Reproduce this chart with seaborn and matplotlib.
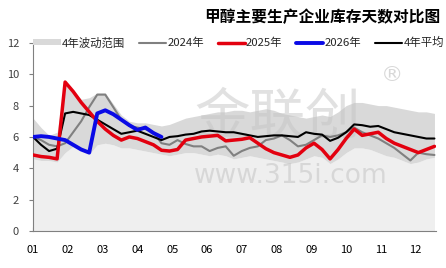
import numpy as np
import pandas as pd
import matplotlib
matplotlib.use("Agg")
import matplotlib.pyplot as plt
from matplotlib.patches import Patch
from matplotlib.lines import Line2D
import seaborn as sns

# ---- data (weekly, week index 0..50) ----
months = ["01", "02", "03", "04", "05", "06", "07", "08", "09", "10", "11", "12"]

band_max = [7.2, 6.6, 6.1, 6.3, 9.5, 9.0, 8.4, 8.5, 8.8, 8.8, 8.1, 7.4, 7.0, 6.9, 6.9,
            6.8, 6.7, 6.8, 7.0, 7.2, 7.3, 7.4, 7.5, 7.6, 7.6, 7.7, 7.7, 7.6, 7.7, 7.8,
            7.7, 7.5, 7.4, 7.3, 7.2, 7.3, 7.4, 7.3, 7.6, 8.0, 8.2, 8.2, 8.1, 8.0, 8.0,
            7.9, 7.8, 7.7, 7.6, 7.6, 7.5]
band_min = [4.6, 4.5, 4.5, 4.4, 5.0, 5.4, 5.2, 4.9, 5.5, 5.6, 5.5, 5.3, 5.3, 5.2, 5.1,
            5.0, 4.9, 4.8, 4.9, 5.0, 5.0, 4.9, 4.8, 4.9, 4.8, 4.6, 4.7, 4.8, 4.7, 4.6,
            4.5, 4.4, 4.3, 4.4, 4.6, 4.8, 4.7, 4.3, 4.6, 5.0, 5.3, 5.3, 5.2, 5.0, 4.8,
            4.7, 4.5, 4.3, 4.4, 4.6, 4.7]
y2024 = [6.0, 5.8, 5.5, 5.4, 5.6, 6.3, 7.0, 7.9, 8.7, 8.7, 7.9, 7.1, 6.7, 6.6, 6.5,
         6.3, 5.6, 5.5, 5.8, 5.55, 5.4, 5.4, 5.1, 5.3, 5.4, 4.8, 5.1, 5.3, 5.4, 5.8,
         5.9, 6.1, 5.8, 5.4, 5.5, 5.8, 6.1, 6.0, 6.1, 6.3, 6.6, 6.3, 6.1, 5.9, 5.6,
         5.3, 4.9, 4.5, 5.0, 4.9, 4.85]
y2025 = [4.85, 4.75, 4.7, 4.6, 9.5, 8.9, 8.2, 7.6, 7.0, 6.5, 6.1, 5.8, 6.0, 5.9, 5.7,
         5.5, 5.15, 5.1, 5.2, 5.8, 5.9, 6.0, 6.05, 6.1, 5.75, 5.8, 5.85, 5.95, 5.6, 5.25,
         5.0, 4.85, 4.7, 4.85, 5.3, 5.6, 5.2, 4.6, 5.2, 5.9, 6.5, 6.1, 6.2, 6.3, 5.9,
         5.6, 5.4, 5.2, 5.0, 5.2, 5.4]
y2026 = [6.0, 6.05, 6.0, 5.9, 5.8, 5.5, 5.2, 5.0, 7.5, 7.7, 7.45, 7.1, 6.75, 6.45, 6.6,
         6.25, 6.0]
avg4 = [6.0, 5.5, 5.1, 5.25, 7.5, 7.6, 7.5, 7.4, 7.1, 6.8, 6.5, 6.2, 6.3, 6.4, 6.2,
        6.0, 5.8, 6.0, 6.05, 6.15, 6.2, 6.35, 6.4, 6.35, 6.3, 6.3, 6.2, 6.1, 6.0, 6.05,
        6.1, 6.1, 6.05, 6.0, 6.3, 6.2, 6.15, 5.75, 5.95, 6.3, 6.8, 6.75, 6.65, 6.7, 6.5,
        6.3, 6.2, 6.1, 6.0, 5.9, 5.9]

weeks = np.arange(len(avg4))
xpos = weeks * 12 / 52.0

sns.set_theme(style="white")
plt.rcParams['font.family'] = ['Noto Sans CJK SC', 'DejaVu Sans']

fig = plt.figure(figsize=(4.46, 2.68), dpi=100)
ax = fig.add_axes([0.074, 0.138, 0.904, 0.702])

# band: light area below min, darker band min..max
ax.fill_between(xpos, 0, band_min, color="#efefef", lw=0, zorder=1)
ax.fill_between(xpos, band_min, band_max, color="#d9d9d9", lw=0, zorder=1)

# watermark
ax.text(0.40, 0.60, "金联创", transform=ax.transAxes, fontsize=40, color="#c4c4c4",
        alpha=0.5, ha="left", va="center", zorder=2)
ax.text(0.89, 0.83, "®", transform=ax.transAxes, fontsize=16, color="#c8c8c8",
        alpha=0.7, ha="center", va="center", zorder=2, family="DejaVu Sans")
ax.text(0.64, 0.29, "www.315i.com", transform=ax.transAxes, fontsize=19, color="#c4c4c4",
        alpha=0.55, ha="center", va="center", zorder=2, family="DejaVu Sans")

df24 = pd.DataFrame({"x": xpos, "y": y2024})
df25 = pd.DataFrame({"x": xpos, "y": y2025})
df26 = pd.DataFrame({"x": xpos[:len(y2026)], "y": y2026})
dfav = pd.DataFrame({"x": xpos, "y": avg4})

sns.lineplot(data=df24, x="x", y="y", ax=ax, color="#808080", lw=1.5, zorder=3)
sns.lineplot(data=dfav, x="x", y="y", ax=ax, color="#000000", lw=1.5, zorder=4)
sns.lineplot(data=df25, x="x", y="y", ax=ax, color="#e3000f", lw=2.5, zorder=5)
sns.lineplot(data=df26, x="x", y="y", ax=ax, color="#0a0ae6", lw=2.8, zorder=6)

ax.set_xlim(0, xpos[-1] + 0.05)
ax.set_ylim(0, 12)
ax.set_yticks([0, 2, 4, 6, 8, 10, 12])
ax.set_xticks(np.arange(12))
ax.set_xticklabels(months)
ax.set_xlabel("")
ax.set_ylabel("")
for s in ["top", "right"]:
    ax.spines[s].set_visible(False)
for s in ["left", "bottom"]:
    ax.spines[s].set_color("#808080")
    ax.spines[s].set_linewidth(0.8)
ax.tick_params(axis="y", direction="out", length=3, width=0.8, color="#808080",
               labelsize=8, labelcolor="#404040", pad=7)
ax.tick_params(axis="x", direction="in", length=3, width=0.8, color="#808080",
               labelsize=8, labelcolor="#000000", pad=10)
ax.tick_params(left=True, bottom=True)

handles = [Patch(facecolor="#d9d9d9", edgecolor="none"),
           Line2D([], [], color="#808080", lw=1.5),
           Line2D([], [], color="#e3000f", lw=2.5),
           Line2D([], [], color="#0a0ae6", lw=2.8),
           Line2D([], [], color="#000000", lw=1.5)]
labels = ["4年波动范围", "2024年", "2025年", "2026年", "4年平均"]
leg = ax.legend(handles, labels, ncol=5, frameon=False, loc="center",
                bbox_to_anchor=(0.51, 1.0), fontsize=8.2, handlelength=2.4,
                handleheight=0.45, handletextpad=0.1, columnspacing=1.2,
                borderaxespad=0)
leg.set_zorder(10)

fig.text(0.988, 0.935, "甲醇主要生产企业库存天数对比图", ha="right", va="center",
         fontsize=11.3, fontweight="bold", color="#000000")

fig.savefig("out.png", dpi=100, facecolor="white")
